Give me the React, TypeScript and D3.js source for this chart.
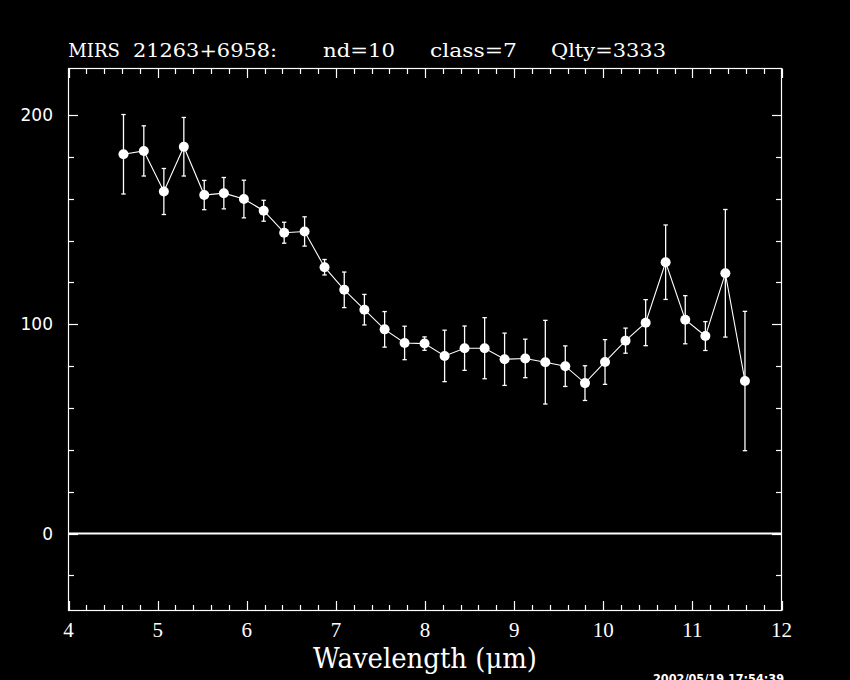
import React, { useEffect, useRef } from "react";
import * as d3 from "d3";

// spectrum
const wavelength = [
  4.617, 4.845, 5.07, 5.294, 5.523, 5.743, 5.968, 6.19, 6.42, 6.649, 6.873,
  7.094, 7.32, 7.547, 7.771, 7.995, 8.22, 8.444, 8.669, 8.893, 9.125, 9.35,
  9.574, 9.795, 10.02, 10.25, 10.476, 10.7, 10.92, 11.146, 11.37, 11.59,
];
const flux = [
  181.3, 182.9, 163.5, 184.9, 161.8, 162.7, 159.9, 154.3, 143.8, 144.4, 127.3,
  116.5, 107, 97.6, 91.1, 90.8, 84.9, 88.6, 88.6, 83.3, 83.7, 81.9, 80, 71.9,
  82, 92.2, 100.8, 129.7, 102.2, 94.4, 124.4, 72.9,
];
const fluxErr = [
  19, 12, 11, 14, 7, 7.5, 9, 5, 5, 7, 3.7, 8.5, 7.3, 8.5, 8, 3.2, 12.3, 10.6,
  14.6, 12.5, 9.2, 20, 9.7, 8.3, 10.7, 6, 11, 17.8, 11.5, 6.9, 30.5, 33.3,
];

const xTickLabels = [4, 5, 6, 7, 8, 9, 10, 11, 12];
const yTickLabels = [0, 100, 200];
const titleParts = ["MIRS", "21263+6958:", "nd=10", "class=7", "Qlty=3333"];
const xAxisLabel = "Wavelength (\u03bcm)";
const stamp = "2002/05/19 17:54:39";

const WIDTH = 850;
const HEIGHT = 680;

function App() {
  const ref = useRef<SVGSVGElement>(null);

  useEffect(() => {
    const svg = d3.select(ref.current);
    svg.selectAll("*").remove();

    const left = 68.5;
    const right = 781.5;
    const top = 68.5;
    const bottom = 610.5;

    const data = wavelength.map((w, i) => ({ w, f: flux[i], e: fluxErr[i] }));

    const xScale = d3.scaleLinear().domain([4, 12]).range([left, right]);
    const yScale = d3.scaleLinear().domain([-36.8, 222.3]).range([bottom, top]);

    svg.append("rect")
      .attr("width", WIDTH)
      .attr("height", HEIGHT)
      .attr("fill", "black");

    // Frame
    svg.append("rect")
      .attr("x", left)
      .attr("y", top)
      .attr("width", right - left)
      .attr("height", bottom - top)
      .attr("fill", "none")
      .attr("stroke", "white")
      .attr("stroke-width", 1.2);

    // X ticks (bottom and top, pointing inward)
    const xTicks = d3.range(0, 41).map((i) => 4 + i * 0.2);
    const isMajorX = (v: number) => Math.abs(v - Math.round(v)) < 1e-6;
    const g = svg.append("g").attr("stroke", "white").attr("stroke-width", 1.2);
    g.selectAll(".xb")
      .data(xTicks)
      .join("line")
      .attr("x1", (d) => Math.round(xScale(d)) + 0.5)
      .attr("x2", (d) => Math.round(xScale(d)) + 0.5)
      .attr("y1", bottom)
      .attr("y2", (d) => bottom - (isMajorX(d) ? 9.5 : 5.5));
    g.selectAll(".xt")
      .data(xTicks)
      .join("line")
      .attr("x1", (d) => Math.round(xScale(d)) + 0.5)
      .attr("x2", (d) => Math.round(xScale(d)) + 0.5)
      .attr("y1", top)
      .attr("y2", (d) => top + (isMajorX(d) ? 9.5 : 5.5));

    // Y ticks (left and right)
    const yTicks = d3.range(-20, 201, 20);
    const isMajorY = (v: number) => v % 100 === 0;
    g.selectAll(".yl")
      .data(yTicks)
      .join("line")
      .attr("y1", (d) => Math.round(yScale(d)) + 0.5)
      .attr("y2", (d) => Math.round(yScale(d)) + 0.5)
      .attr("x1", left)
      .attr("x2", (d) => left + (isMajorY(d) ? 9.5 : 5.5));
    g.selectAll(".yr")
      .data(yTicks)
      .join("line")
      .attr("y1", (d) => Math.round(yScale(d)) + 0.5)
      .attr("y2", (d) => Math.round(yScale(d)) + 0.5)
      .attr("x1", right)
      .attr("x2", (d) => right - (isMajorY(d) ? 9.5 : 5.5));

    // Zero line
    svg.append("line")
      .attr("x1", left)
      .attr("x2", right)
      .attr("y1", yScale(0))
      .attr("y2", yScale(0))
      .attr("stroke", "white")
      .attr("stroke-width", 1.8);

    // Tick labels
    svg.selectAll(".xlab")
      .data(xTickLabels)
      .join("text")
      .attr("x", (d) => xScale(d))
      .attr("y", 637)
      .attr("text-anchor", "middle")
      .attr("fill", "white")
      .style("font-family", "'Liberation Serif', serif")
      .style("font-size", "21px")
      .text((d) => d);

    svg.selectAll(".ylab")
      .data(yTickLabels)
      .join("text")
      .attr("x", 53)
      .attr("y", (d) => yScale(d) + 6)
      .attr("text-anchor", "end")
      .attr("fill", "white")
      .style("font-family", "'DejaVu Sans', sans-serif")
      .style("font-size", "17px")
      .text((d) => d);

    // Title
    const titleX = [68.3, 133, 323, 430, 551];
    const titleW = [51.7, 144, 72, 87, 115];
    svg.selectAll(".title")
      .data(titleParts)
      .join("text")
      .attr("x", (d, i) => titleX[i])
      .attr("y", 56.7)
      .attr("textLength", (d, i) => titleW[i])
      .attr("lengthAdjust", "spacingAndGlyphs")
      .attr("fill", "white")
      .style("font-family", "'DejaVu Serif', serif")
      .style("font-size", "18.5px")
      .text((d) => d);

    // Axis label
    svg.append("text")
      .attr("x", 313)
      .attr("y", 668)
      .attr("textLength", 224)
      .attr("lengthAdjust", "spacingAndGlyphs")
      .attr("fill", "white")
      .style("font-family", "'DejaVu Serif', serif")
      .style("font-size", "27px")
      .text(xAxisLabel);

    // Time stamp (runs off the bottom edge, as in the original)
    svg.append("text")
      .attr("x", 653)
      .attr("y", 683)
      .attr("textLength", 131)
      .attr("lengthAdjust", "spacingAndGlyphs")
      .attr("fill", "white")
      .style("font-family", "'DejaVu Sans', sans-serif")
      .style("font-weight", "bold")
      .style("font-size", "12px")
      .text(stamp);

    // Connecting line
    const line = d3.line<{ w: number; f: number }>()
      .x((d) => xScale(d.w))
      .y((d) => yScale(d.f));
    svg.append("path")
      .datum(data)
      .attr("d", line)
      .attr("fill", "none")
      .attr("stroke", "white")
      .attr("stroke-width", 1.1);

    // Error bars
    const eb = svg.append("g").attr("stroke", "white").attr("stroke-width", 1.3);
    eb.selectAll(".ev")
      .data(data)
      .join("line")
      .attr("x1", (d) => xScale(d.w))
      .attr("x2", (d) => xScale(d.w))
      .attr("y1", (d) => yScale(d.f - d.e))
      .attr("y2", (d) => yScale(d.f + d.e));
    eb.selectAll(".ecap1")
      .data(data)
      .join("line")
      .attr("x1", (d) => xScale(d.w) - 2.2)
      .attr("x2", (d) => xScale(d.w) + 2.2)
      .attr("y1", (d) => yScale(d.f + d.e))
      .attr("y2", (d) => yScale(d.f + d.e));
    eb.selectAll(".ecap2")
      .data(data)
      .join("line")
      .attr("x1", (d) => xScale(d.w) - 2.2)
      .attr("x2", (d) => xScale(d.w) + 2.2)
      .attr("y1", (d) => yScale(d.f - d.e))
      .attr("y2", (d) => yScale(d.f - d.e));

    // Points
    svg.selectAll("circle")
      .data(data)
      .join("circle")
      .attr("cx", (d) => xScale(d.w))
      .attr("cy", (d) => yScale(d.f))
      .attr("r", 5)
      .attr("fill", "white");
  }, []);

  return (
    <svg
      ref={ref}
      width={WIDTH}
      height={HEIGHT}
      style={{ position: "absolute", left: 0, top: 0, display: "block" }}
    />
  );
}

export default App;
